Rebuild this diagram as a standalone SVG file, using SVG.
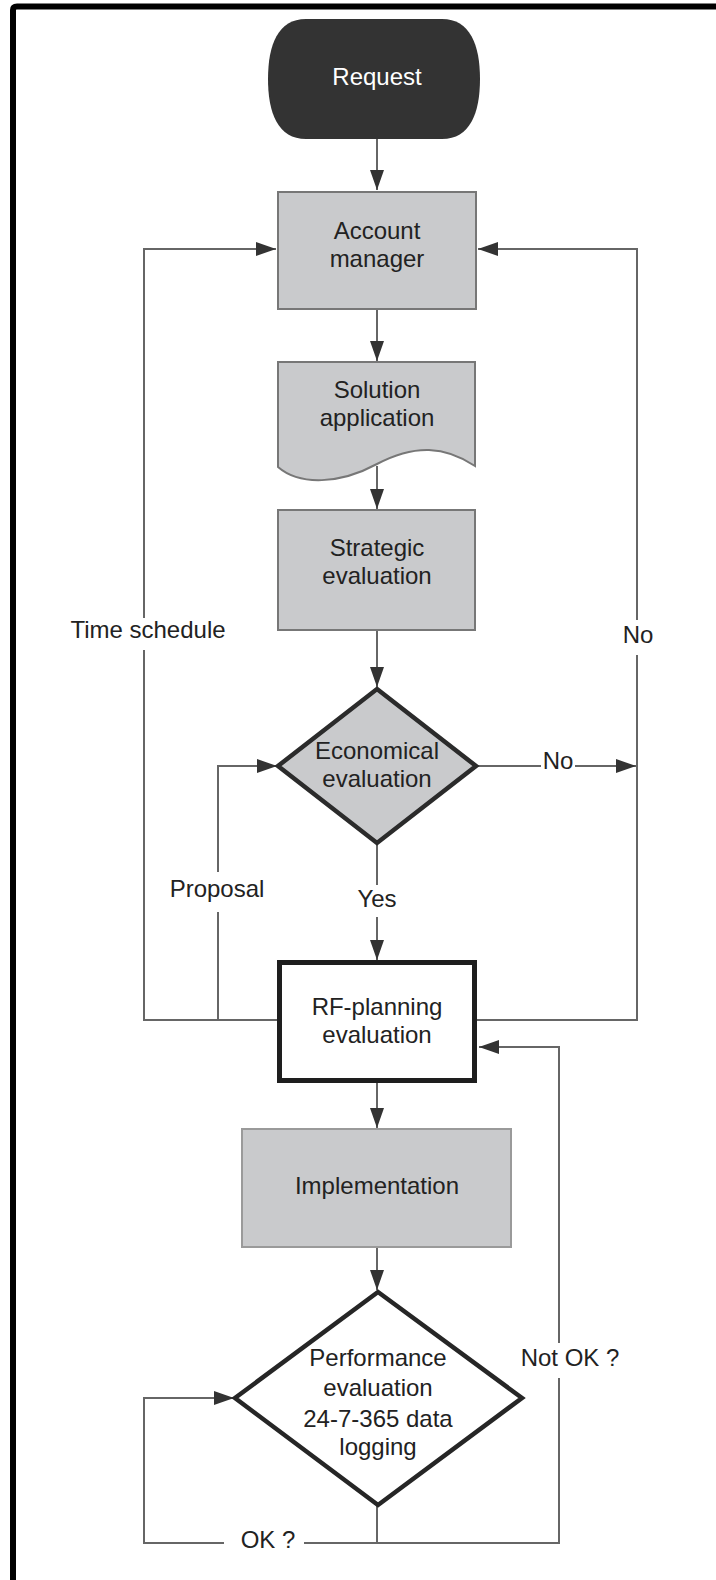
<svg xmlns="http://www.w3.org/2000/svg" width="716" height="1580" viewBox="0 0 716 1580">
  <style>
    .txt { font-family: "Liberation Sans", Arial, sans-serif; font-size: 24px; fill: #222; text-anchor: middle; }
    .wtxt { fill: #ffffff; }
    .line { fill: none; stroke: #666; stroke-width: 2; }
    .box { fill: #c9cacc; stroke: #777; stroke-width: 2; }
    .lbg { fill: #ffffff; }
  </style>
  <defs>
    <marker id="arrow" markerUnits="userSpaceOnUse" markerWidth="20" markerHeight="14" refX="20" refY="7" orient="auto">
      <path d="M0,0 L20,7 L0,14 Z" fill="#333"/>
    </marker>
  </defs>

  <rect width="716" height="1580" fill="#ffffff"/>
  <!-- page frame -->
  <path d="M13,1580 V10 Q13,6.5 17,6.5 H716" fill="none" stroke="#000" stroke-width="6"/>

  <!-- connectors -->
  <g id="connectors">
    <path class="line" d="M377,139 V190" marker-end="url(#arrow)"/>
    <path class="line" d="M377,309 V361" marker-end="url(#arrow)"/>
    <path class="line" d="M377,466 V509" marker-end="url(#arrow)"/>
    <path class="line" d="M377,630 V687" marker-end="url(#arrow)"/>
    <path class="line" d="M377,843 V960" marker-end="url(#arrow)"/>
    <path class="line" d="M476,766 H636" marker-end="url(#arrow)"/>
    <path class="line" d="M278,1020 H144 V249 H276" marker-end="url(#arrow)"/>
    <path class="line" d="M218,1020 V766 H277" marker-end="url(#arrow)"/>
    <path class="line" d="M476,1020 H637 V249 H478" marker-end="url(#arrow)"/>
    <path class="line" d="M377,1083 V1128" marker-end="url(#arrow)"/>
    <path class="line" d="M377,1247 V1290" marker-end="url(#arrow)"/>
    <path class="line" d="M377,1505 V1543 H559 V1047 H479" marker-end="url(#arrow)"/>
    <path class="line" d="M377,1543 H144 V1398 H234" marker-end="url(#arrow)"/>

    <!-- connector labels -->
    <rect class="lbg" x="66" y="618" width="164" height="32"/>
    <text class="txt" x="148" y="638">Time schedule</text>
    <rect class="lbg" x="620" y="620" width="36" height="35"/>
    <text class="txt" x="638" y="643">No</text>
    <rect class="lbg" x="541" y="752" width="34" height="26"/>
    <text class="txt" x="558" y="769">No</text>
    <rect class="lbg" x="168" y="872" width="100" height="40"/>
    <text class="txt" x="217" y="897">Proposal</text>
    <rect class="lbg" x="356" y="885" width="42" height="32"/>
    <text class="txt" x="377" y="907">Yes</text>
    <rect class="lbg" x="516" y="1343" width="108" height="35"/>
    <text class="txt" x="570" y="1366">Not OK ?</text>
    <rect class="lbg" x="224" y="1530" width="80" height="26"/>
    <text class="txt" x="268" y="1548">OK ?</text>
  </g>

  <g id="request">
    <path d="M306,19 H442 C470,19 480,45 480,79 C480,113 470,139 442,139 H306 C278,139 268,113 268,79 C268,45 278,19 306,19 Z" fill="#333333"/>
    <text class="txt wtxt" x="377" y="85">Request</text>
  </g>

  <g id="account-manager">
    <rect class="box" x="278" y="192" width="198" height="117"/>
    <text class="txt" x="377" y="239">Account</text>
    <text class="txt" x="377" y="267">manager</text>
  </g>

  <g id="solution-application">
    <path class="box" d="M278,362 H475 V466 C445,446 415,444 377,464 C340,484 300,486 278,467 Z"/>
    <text class="txt" x="377" y="398">Solution</text>
    <text class="txt" x="377" y="426">application</text>
  </g>

  <g id="strategic-evaluation">
    <rect class="box" x="278" y="510" width="197" height="120"/>
    <text class="txt" x="377" y="556">Strategic</text>
    <text class="txt" x="377" y="584">evaluation</text>
  </g>

  <g id="economical-evaluation">
    <path d="M377,689 L476,766 L377,843 L278,766 Z" fill="#c9cacc" stroke="#2b2b2b" stroke-width="4.5" stroke-linejoin="miter"/>
    <text class="txt" x="377" y="759">Economical</text>
    <text class="txt" x="377" y="787">evaluation</text>
  </g>

  <g id="rf-planning-evaluation">
    <rect x="279.5" y="962.5" width="195" height="118" fill="#ffffff" stroke="#1e1e1e" stroke-width="5"/>
    <text class="txt" x="377" y="1015">RF-planning</text>
    <text class="txt" x="377" y="1043">evaluation</text>
  </g>

  <g id="implementation">
    <rect x="242" y="1129" width="269" height="118" fill="#c9cacc" stroke="#9a9a9a" stroke-width="2"/>
    <text class="txt" x="377" y="1194">Implementation</text>
  </g>

  <g id="performance-evaluation">
    <path d="M378,1292 L522,1398 L378,1505 L235,1398 Z" fill="#ffffff" stroke="#262626" stroke-width="4.5"/>
    <text class="txt" x="378" y="1366">Performance</text>
    <text class="txt" x="378" y="1396">evaluation</text>
    <text class="txt" x="378" y="1427">24-7-365 data</text>
    <text class="txt" x="378" y="1455">logging</text>
  </g>
</svg>
